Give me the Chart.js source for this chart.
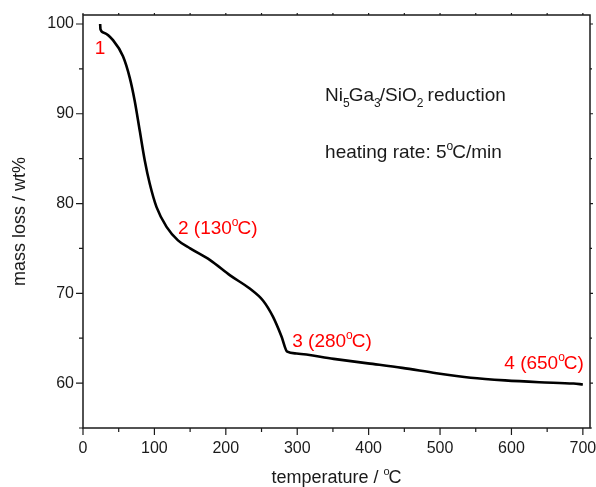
<!DOCTYPE html>
<html>
<head>
<meta charset="utf-8">
<script src="https://cdn.jsdelivr.net/npm/chart.js@4"></script>
<style>
  body { margin: 0; background: #fff; }
  #wrap { width: 596px; height: 487px; }
</style>
</head>
<body>
<div id="wrap"><canvas id="tga" width="596" height="487"></canvas></div>
<script>
// TGA curve
const temperature = [24, 24.5, 30, 42, 56, 65.5, 72.5, 79.5, 86.5, 93.5, 103, 117, 133, 150, 178, 206, 234, 252, 266, 278, 286, 299, 351, 399, 447, 495, 543, 591, 639, 687, 700];
const massLoss = [100, 99.4, 99.0, 98.2, 96.4, 94.0, 91.4, 88.1, 84.8, 82.2, 79.6, 77.4, 75.9, 75.0, 73.7, 72.0, 70.5, 69.2, 67.4, 65.2, 63.5, 63.3, 62.7, 62.2, 61.7, 61.1, 60.6, 60.3, 60.1, 59.95, 59.85];

const xTicks = [0, 100, 200, 300, 400, 500, 600, 700];
const yTicks = [60, 70, 80, 90, 100];

// point labels: [x, y, text parts]
const pointLabels = [
  [16.4, 96.7, [{ t: '1' }]],
  [133, 76.6, [{ t: '2 (130' }, { t: 'o', sup: true }, { t: 'C)' }]],
  [293, 64.0, [{ t: '3 (280' }, { t: 'o', sup: true }, { t: 'C)' }]],
  [590, 61.6, [{ t: '4 (650' }, { t: 'o', sup: true }, { t: 'C)' }]]
];
const infoLines = [
  [339, 91.4, [{ t: 'Ni' }, { t: '5', sub: true }, { t: 'Ga' }, { t: '3', sub: true }, { t: '/SiO' }, { t: '2', sub: true }, { t: ' reduction' }]],
  [339, 85.1, [{ t: 'heating rate: 5' }, { t: 'o', sup: true }, { t: 'C/min' }]]
];

const FONT = '"Liberation Sans", Arial, sans-serif';
const INK = '#1a1a1a';

function drawRich(ctx, parts, x, y, size, color) {
  ctx.fillStyle = color;
  ctx.textBaseline = 'alphabetic';
  ctx.textAlign = 'left';
  parts.forEach(p => {
    if (p.sup || p.sub) {
      ctx.font = Math.round(size * 0.62) + 'px ' + FONT;
      const dy = p.sup ? -size * 0.42 : size * 0.28;
      ctx.fillText(p.t, x, y + dy);
      x += ctx.measureText(p.t).width - 1;
    } else {
      ctx.font = size + 'px ' + FONT;
      ctx.fillText(p.t, x, y);
      x += ctx.measureText(p.t).width;
    }
  });
  return x;
}

function richWidth(ctx, parts, size) {
  let w = 0;
  parts.forEach(p => {
    ctx.font = (p.sup || p.sub ? Math.round(size * 0.62) : size) + 'px ' + FONT;
    w += ctx.measureText(p.t).width - (p.sup || p.sub ? 1 : 0);
  });
  return w;
}

const decorations = {
  id: 'decorations',
  afterDraw(chart) {
    const { ctx, chartArea: a, scales: { x, y } } = chart;
    ctx.save();
    // frame
    ctx.strokeStyle = INK;
    ctx.lineWidth = 1.5;
    ctx.strokeRect(a.left, a.top, a.right - a.left, a.bottom - a.top);
    ctx.lineWidth = 1.2;
    ctx.beginPath();
    for (let v = 0; v <= 700; v += 50) {
      const px = x.getPixelForValue(v);
      const major = v % 100 === 0;
      ctx.moveTo(px, a.bottom); ctx.lineTo(px, a.bottom + (major ? 7 : 4));
      ctx.moveTo(px, a.top); ctx.lineTo(px, a.top - 2);
    }
    for (let v = 55; v <= 100; v += 5) {
      const py = y.getPixelForValue(v);
      const major = v % 10 === 0;
      ctx.moveTo(a.left, py); ctx.lineTo(a.left - (major ? 7 : 4), py);
      ctx.moveTo(a.right, py); ctx.lineTo(a.right + (major ? 3 : 2), py);
    }
    ctx.stroke();

    // axis titles
    const xt = [{ t: 'temperature / ' }, { t: 'o', sup: true }, { t: 'C' }];
    const w = richWidth(ctx, xt, 18);
    drawRich(ctx, xt, (a.left + a.right) / 2 - w / 2, 483, 18, INK);
    ctx.save();
    ctx.translate(25, (a.top + a.bottom) / 2);
    ctx.rotate(-Math.PI / 2);
    ctx.font = '18px ' + FONT;
    ctx.textAlign = 'center';
    ctx.fillStyle = INK;
    ctx.fillText('mass loss / wt%', 0, 0);
    ctx.restore();

    // labels
    pointLabels.forEach(([vx, vy, parts]) => {
      drawRich(ctx, parts, x.getPixelForValue(vx), y.getPixelForValue(vy), 19, '#ff0000');
    });
    infoLines.forEach(([vx, vy, parts]) => {
      drawRich(ctx, parts, x.getPixelForValue(vx), y.getPixelForValue(vy), 19, INK);
    });
    ctx.restore();
  }
};

new Chart(document.getElementById('tga'), {
  type: 'line',
  data: {
    datasets: [{
      data: temperature.map((t, i) => ({ x: t, y: massLoss[i] })),
      borderColor: '#000',
      borderWidth: 2.6,
      pointRadius: 0,
      cubicInterpolationMode: 'monotone',
      fill: false
    }]
  },
  options: {
    responsive: false,
    animation: false,
    layout: { padding: { top: 15, right: 6, left: 0, bottom: 0 } },
    plugins: { legend: { display: false }, tooltip: { enabled: false } },
    scales: {
      x: {
        type: 'linear',
        min: 0,
        max: 710,
        afterBuildTicks: s => { s.ticks = xTicks.map(v => ({ value: v })); },
        afterFit: s => { s.height = 59; s.paddingLeft = 0; s.paddingRight = 0; },
        grid: { display: false, drawTicks: false },
        border: { display: false },
        ticks: { color: INK, font: { family: FONT, size: 16 }, padding: 11, maxRotation: 0 }
      },
      y: {
        min: 55,
        max: 101,
        afterBuildTicks: s => { s.ticks = yTicks.map(v => ({ value: v })); },
        afterFit: s => { s.width = 83; s.paddingTop = 0; s.paddingBottom = 0; },
        grid: { display: false, drawTicks: false },
        border: { display: false },
        ticks: { color: INK, font: { family: FONT, size: 16 }, padding: 9 }
      }
    }
  },
  plugins: [decorations]
});
</script>
</body>
</html>
